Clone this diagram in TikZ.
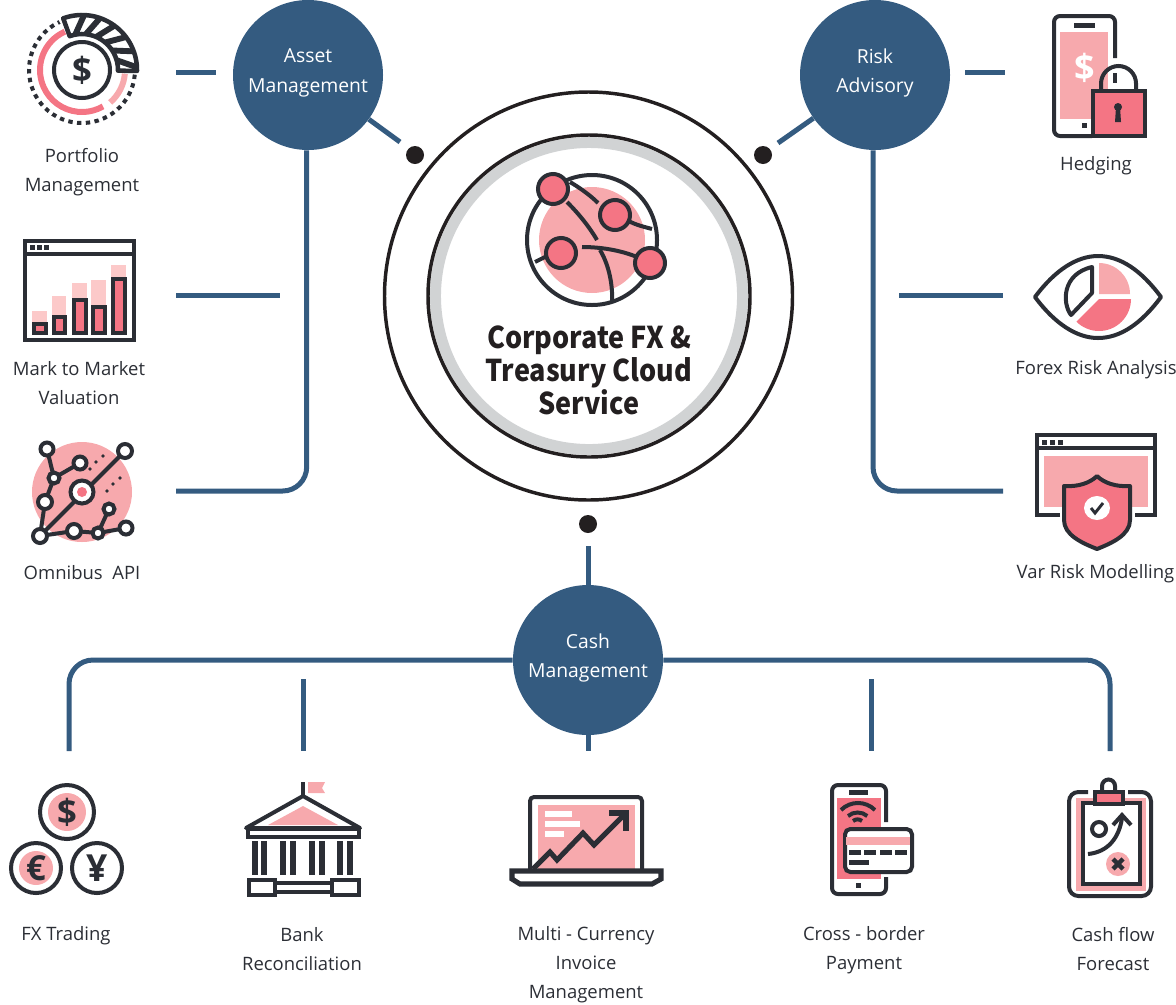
\documentclass[tikz,border=0pt]{standalone}
\usepackage{fontspec}
\setmainfont{Open Sans}
\newfontfamily\titlefont[FakeStretch=0.9]{Noto Sans CJK SC}
\definecolor{navy}{HTML}{345B80}
\definecolor{ink}{HTML}{2B2E35}
\definecolor{blackdot}{HTML}{231F20}
\definecolor{rose}{HTML}{F47584}
\definecolor{blush}{HTML}{F7A9AD}
\definecolor{paleblush}{HTML}{FCC9C9}
\definecolor{ringgray}{HTML}{D1D3D4}
\tikzset{
  hub/.style={circle,fill=navy,minimum size=112.5pt,inner sep=0pt},
  hublbl/.style={align=center,inner sep=0pt,text=white,font=\fontsize{14.5}{22}\selectfont},
  lbl/.style={align=center,inner sep=0pt,text=ink,font=\fontsize{13.85}{21.75}\selectfont},
  dotnode/.style={circle,fill=blackdot,minimum size=13.5pt,inner sep=0pt},
  link/.style={draw=navy,line width=3.75pt},
  ico/.style={draw=ink,line width=3pt},
  sym/.style={inner sep=0pt,text=ink,font=\bfseries\fontsize{#1}{#1}\selectfont},
}
\begin{document}
\begin{tikzpicture}[x=0.75pt,y=-0.75pt]
\useasboundingbox (0,0) rectangle (1176,1004);

\node[hub] (asset) at (308,75) {};
\node[hub] (risk) at (875,75) {};
\node[hub] (cash) at (588,660) {};
\node[dotnode] (assetdot) at (415,155) {};
\node[dotnode] (riskdot) at (763,155) {};
\node[dotnode] (cashdot) at (588,524) {};

\coordinate (assetend) at (400,142);
\coordinate (riskend) at (778,143);
\coordinate (cashtop) at (588,546);
\coordinate (portfolioa) at (176,72);
\coordinate (portfoliob) at (216,72);
\coordinate (marka) at (176,295);
\coordinate (markb) at (280,295);
\coordinate (apiend) at (176,491);
\coordinate (hedgea) at (965,72);
\coordinate (hedgeb) at (1005,72);
\coordinate (forexa) at (899,295);
\coordinate (forexb) at (1003,295);
\coordinate (varend) at (1003,491);
\coordinate (fxend) at (69,751);
\coordinate (banka) at (303,679);
\coordinate (bankb) at (303,751);
\coordinate (multiend) at (588,751);
\coordinate (crossa) at (871,679);
\coordinate (crossb) at (871,751);
\coordinate (flowend) at (1110,751);

\draw[link] (asset) -- (assetend);
\draw[link] (risk) -- (riskend);
\draw[link] (cashtop) -- (cash);
\draw[link] (portfolioa) -- (portfoliob);
\draw[link] (marka) -- (markb);
\draw[link,rounded corners=18pt] ([xshift=-1pt]asset.south) |- (apiend);
\draw[link] (hedgea) -- (hedgeb);
\draw[link] (forexa) -- (forexb);
\draw[link,rounded corners=18pt] ([xshift=-1.5pt]risk.south) |- (varend);
\draw[link,rounded corners=18pt] (cash.west) -| (fxend);
\draw[link,rounded corners=18pt] (cash.east) -| (flowend);
\draw[link] (banka) -- (bankb);
\draw[link] (cash.south) -- (multiend);
\draw[link] (crossa) -- (crossb);

\node[hublbl] (assettext) at (308,73) {Asset\\Management};
\node[hublbl] (risktext) at (875,73) {Risk\\Advisory};
\node[hublbl] (cashtext) at (588,658) {Cash\\Management};

\draw[draw=blackdot,line width=2.6pt] (588.5,296) circle (204);
\draw[draw=ringgray,line width=8.2pt] (589,296) circle (153.5);
\draw[draw=blackdot,line width=2.6pt] (589,296) circle (161);

\fill[blush] (592,240) circle (53);
\draw[ico] (592,240) circle (65);
\draw[ico] (567,202) .. controls (580,215) and (590,228) .. (597,240);
\draw[ico] (570,182) .. controls (580,188) and (590,195) .. (598,203);
\draw[ico] (627,220) .. controls (635,225) and (645,227) .. (652,229);
\draw[ico] (535,262) -- (547,256);
\draw[ico] (582,247) .. controls (600,247) and (620,250) .. (637,257);
\draw[ico] (600,250) .. controls (609,265) and (613,285) .. (612,303);
\foreach \px/\py in {553/189,615/215,561/253,650/263}
  \draw[ico,fill=rose] (\px,\py) circle (15);

\node[inner sep=0pt,align=center,text=blackdot,font=\titlefont\bfseries\fontsize{22.5}{24.75}\selectfont] (title) at (589,370) {Corporate FX \&\\Treasury Cloud\\Service};

\begin{scope}[shift={(82,70)}]
\draw[draw=ink,line width=3pt,dash pattern=on 3.3pt off 3.3pt] (5:53) arc (5:245:53);
\draw[draw=rose,line width=4.5pt] (246:42) arc (246:60:42);
\draw[draw=blush,line width=4.5pt] (5:43) arc (5:49:43);
\fill[white] (-110:57) arc (-110:1:57) -- (1:36) arc (1:-110:36) -- cycle;
\begin{scope}
\clip (-110:56) arc (-110:1:56) -- (1:36) arc (1:-110:36) -- cycle;
\foreach \a in {-102,-85,-68,-51,-34,-17,0}
  \draw[draw=ink,line width=4.4pt] (\a:35) -- ({\a+15}:57);
\end{scope}
\draw[draw=ink,line width=3.4pt,line join=round] (-110:55) arc (-110:1:55) -- (1:36) arc (1:-110:36) -- cycle;
\draw[ico] (0,0) circle (28);
\node[sym=26] (portfoliodollar) at (0,0) {\$};
\end{scope}
\node[lbl] (portfolio) at (82,172) {Portfolio\\Management};

\draw[ico,fill=white] (25,241) rectangle (134,340);
\draw[ico] (25,254) -- (134,254);
\foreach \bx in {30,37,44}
  \fill[ink] (\bx,245) rectangle +(5,5);
\foreach \bl/\br/\bt/\lt in {32/47/322/311,52/66/315/296,72/87/298/283,91/106/305/280,111/126/277/265}{
  \fill[paleblush] (\bl,\lt) rectangle (\br,\bt);
  \draw[ico,fill=rose] (\bl+1.5,\bt+1.5) rectangle (\br-1.5,333);
}
\node[lbl] (mark) at (79,383) {Mark to Market\\Valuation};

\fill[blush] (82,492) circle (50);
\draw[ico] (47,449) -- (54,478) -- (80,463);
\draw[ico] (54,478) -- (45,502) -- (40,536);
\draw[ico] (40,536) -- (125,451);
\draw[ico] (40,536) -- (74,531) -- (98,533) -- (126,528);
\draw[ico] (98,533) -- (109,509);
\foreach \px/\py/\nr in {47/449/6.5,80/463/6.5,54/478/5.5,45/502/7,40/536/7,125/451/7,74/531/7,98/533/5.5,126/528/6.5,109/509/5.5}
  \draw[ico,fill=white] (\px,\py) circle (\nr);
\draw[ico,fill=white] (82,492) circle (11.5);
\fill[rose] (82,492) circle (5);
\foreach \px/\py in {90/469,96/462,103/456,107/491,113/484,120/478}
  \fill[ink] (\px,\py) circle (1.8);
\node[lbl] (api) at (82,573) {Omnibus\ \ API};

\fill[blush] (1060,32) rectangle (1108,119);
\draw[ico,rounded corners=4.5pt] (1092,136) -- (1054,136) -- (1054,16) -- (1115,16) -- (1115,58);
\draw[ico] (1114.5,73) -- (1114.5,83);
\fill[ink] (1074,23) rectangle (1095,28);
\fill[ink] (1082,123) rectangle (1087,128);
\node[inner sep=0pt,text=white,font=\bfseries\fontsize{27}{27}\selectfont] (hedgedollar) at (1085,68) {\$};
\draw[ico] (1101,92) -- (1101,83.5) arc (180:360:17.5) -- (1136,92);
\draw[ico,fill=rose] (1093,91) rectangle (1144.5,135.5);
\fill[ink] (1118,107) circle (4);
\fill[ink] (1116,107) -- (1120,107) -- (1121,122) -- (1115,122) -- cycle;
\node[lbl] (hedging) at (1096,166) {Hedging};

\draw[ico,line join=round] (1035,297) .. controls (1055,270) and (1077,256) .. (1098,256) .. controls (1120,256) and (1141,270) .. (1161,297) .. controls (1141,324) and (1120,338) .. (1098,338) .. controls (1077,338) and (1055,324) .. (1035,297) -- cycle;
\fill[blush] (1099,294) -- (1099,263) arc (-90:0:31) -- cycle;
\fill[rose] (1099,299) -- (1131,299) arc (0:135:32) -- cycle;
\draw[ico,line join=round] (1092,267) -- (1092,293) -- (1071,315) .. controls (1062,303) and (1062,274) .. cycle;
\node[lbl] (forex) at (1096,370) {Forex Risk Analysis};

\fill[blush] (1044,456) rectangle (1148,507);
\draw[ico] (1060,515) -- (1037,515) -- (1037,435) -- (1155,435) -- (1155,515) -- (1135,515);
\draw[ico] (1037,448) -- (1155,448);
\foreach \bx in {1042,1050,1058}
  \fill[ink] (\bx,440) rectangle +(5,5);
\draw[ico,fill=rose,line join=round] (1064,486) .. controls (1078,487) and (1090,483) .. (1097,476) .. controls (1104,483) and (1116,487) .. (1130,486) -- (1130,520) .. controls (1130,535) and (1112,543) .. (1097,549) .. controls (1082,543) and (1064,535) .. (1064,520) -- cycle;
\fill[white] (1097,508) ellipse (13 and 12);
\draw[draw=ink,line width=2.2pt] (1091,508) -- (1095,513) -- (1103,503);
\node[lbl] (var) at (1095.5,574) {Var Risk Modelling};

\fill[blush] (67,812) circle (19);
\draw[ico] (67,812) circle (27);
\node[sym=26] (fxdollar) at (67,812) {\$};
\fill[blush] (36,868) circle (17);
\draw[ico] (36,868) circle (25);
\node[sym=26] (fxeuro) at (36,868) {€};
\draw[ico] (97,868) circle (25);
\node[sym=28] (fxyen) at (97,868) {¥};
\node[lbl] (fx) at (66,936) {FX Trading};

\fill[blush] (308,782) -- (325,782) -- (322,788) -- (325,793) -- (308,793) -- cycle;
\fill[blush] (303,806) -- (338,825) -- (268,825) -- cycle;
\draw[ico] (303,782) -- (303,797);
\draw[ico,line join=round] (246,828) -- (303,796) -- (360,828) -- cycle;
\draw[ico] (248,829) rectangle (359,837);
\foreach \cx in {255,264,283,293,312,322,340,350}
  \draw[draw=ink,line width=3.8pt] (\cx,841) -- (\cx,875);
\draw[ico] (249,880) rectangle (275,895);
\draw[ico] (332,880) rectangle (359,895);
\draw[ico] (275,883) -- (332,883);
\draw[ico] (275,892) -- (332,892);
\node[lbl] (bank) at (302,949) {Bank\\Reconciliation};

\fill[blush] (538,805) rectangle (635,869);
\fill[white] (545,811) rectangle (572,817);
\fill[white] (545,821) rectangle (580,827);
\fill[white] (545,831) rectangle (564,837);
\draw[ico,rounded corners=3pt] (530,870) -- (530,797) -- (642,797) -- (642,870);
\draw[draw=ink,line width=3.8pt] (533,869) -- (550,852) -- (557,860) -- (583,833) -- (594,845) -- (626,813);
\draw[draw=ink,line width=3.8pt] (609,813) -- (626,813) -- (626,831);
\draw[draw=ink,line width=3.8pt,fill=white] (512,871) -- (661,871) -- (661,879) -- (652,884) -- (520,884) -- (512,879) -- cycle;
\node[lbl] (multi) at (586,965) {Multi - Currency\\Invoice\\Management};

\fill[rose] (837,798) rectangle (881,879);
\draw[ico,rounded corners=4.5pt] (886,822) -- (886,785) -- (832,785) -- (832,894) -- (886,894) -- (886,877);
\fill[ink] (849,790) rectangle (868,795);
\fill[ink] (856,883) rectangle (861,888);
\draw[ico] (841,810) arc (-135:-45:24);
\draw[ico] (848,816) arc (-130:-50:15);
\draw[ico] (853,821) arc (-130:-50:7);
\draw[ico,fill=white,rounded corners=4pt] (845,829) rectangle (912,872);
\fill[blush] (846,837) rectangle (910,845);
\foreach \dl in {849,864,880,895}
  \fill[ink] (\dl,850) rectangle +(12,5);
\fill[ink] (849,860) rectangle (869,865);
\node[lbl] (cross) at (864,950) {Cross - border\\Payment};

\fill[blush] (1076,798) rectangle (1146,891);
\draw[ico,rounded corners=7pt] (1088,792) -- (1069,792) -- (1069,896) -- (1151,896) -- (1151,792) -- (1128,792);
\draw[ico,fill=white] (1083,803) rectangle (1140,884);
\draw[ico,fill=white] (1102,792) -- (1102,786) arc (180:360:6.5) -- (1115,792);
\draw[ico,fill=rose] (1095,792) rectangle (1123,804);
\draw[ico] (1099,829) circle (7);
\draw[ico] (1088,854) .. controls (1108,852) and (1119,838) .. (1122,818);
\draw[ico] (1113,825) -- (1122,815) -- (1131,825);
\fill[blush] (1118,864) circle (12);
\draw[draw=ink,line width=3.4pt] (1113,859) -- (1123,869);
\draw[draw=ink,line width=3.4pt] (1123,859) -- (1113,869);
\node[lbl] (flow) at (1113,949) {Cash flow\\Forecast};
\end{tikzpicture}
\end{document}
